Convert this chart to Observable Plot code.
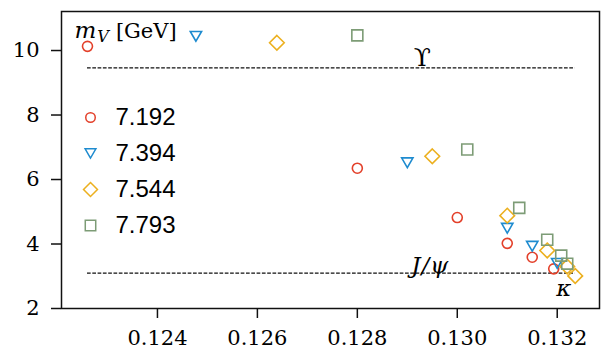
<!DOCTYPE html>
<html><head><meta charset="utf-8">
<script src="https://cdn.jsdelivr.net/npm/d3@7"></script>
<script src="https://cdn.jsdelivr.net/npm/@observablehq/plot@0.6"></script>
<style>
body{margin:0;background:#fff;}
</style></head><body><div id="chart"></div>
<script>
// ---- data ----
const series = ["7.192", "7.394", "7.544", "7.793"];
const colors = ["#e3402a", "#1e8bcf", "#ecb01f", "#7d9c76"];
const symbols = ["circle", "triangle2", "diamond2", "square2"];

const kappa7192 = [0.1226, 0.1280, 0.1300, 0.1310, 0.1315, 0.13193];
const mass7192  = [10.13, 6.35, 4.82, 4.02, 3.59, 3.23];
const kappa7394 = [0.12477, 0.1290, 0.1310, 0.1315, 0.1320];
const mass7394  = [10.44, 6.52, 4.49, 3.93, 3.40];
const kappa7544 = [0.12639, 0.1295, 0.1310, 0.1318, 0.1322, 0.13236];
const mass7544  = [10.24, 6.72, 4.88, 3.80, 3.30, 3.01];
const kappa7793 = [0.1280, 0.1302, 0.13124, 0.1318, 0.13208, 0.1322];
const mass7793  = [10.47, 6.93, 5.12, 4.13, 3.64, 3.39];

const xTicks = [0.124, 0.126, 0.128, 0.130, 0.132];
const yTicks = [2, 4, 6, 8, 10];

const refNames = ["\u03D2", "J/\u03C8"];
const refMasses = [9.46, 3.097];
const refLabelKappa = [0.1293, 0.12946];

const kappaLabel = "\u03BA";
const kappaLabelPos = [0.13213, 2.62];

// ---- build tables ----
const kappas = [kappa7192, kappa7394, kappa7544, kappa7793];
const masses = [mass7192, mass7394, mass7544, mass7793];
const rows = [];
series.forEach((s, i) => kappas[i].forEach((k, j) => rows.push({series: s, kappa: k, mass: masses[i][j]})));
const kMin = d3.min(rows, d => d.kappa), kMax = d3.max(rows, d => d.kappa);
const refs = refNames.map((n, i) => ({name: n, mass: refMasses[i], x1: kMin, x2: kMax, lx: refLabelKappa[i]}));

const dataR = [5, 5.4, 6.6, 7];
const triDy = i => symbols[i] === "triangle2" ? -1.6 : 0;
const serif = "DejaVu Serif";
const ink = "#000";

const marks = [
  Plot.ruleY(refs, {y: "mass", x1: "x1", x2: "x2", stroke: "#111", strokeWidth: 1.3, strokeDasharray: "3.7,1.6"}),
  Plot.text(refs.slice(0,1), {x: "lx", y: "mass", text: "name", fontFamily: serif, fontSize: 25, lineAnchor: "bottom", dy: -2, fill: ink}),
  Plot.text(refs.slice(1), {x: "lx", y: "mass", text: "name", fontFamily: serif, fontStyle: "italic", fontSize: 23, lineAnchor: "bottom", dy: 0, fill: ink, className: "jpsi"}),
  Plot.text([kappaLabel], {x: () => kappaLabelPos[0], y: () => kappaLabelPos[1], text: d => d, fontFamily: serif, fontStyle: "italic", fontSize: 23, fill: ink}),
  Plot.text(["m"], {frameAnchor: "top-left", dx: 13, dy: 20, text: d => d, textAnchor: "start", lineAnchor: "middle", fontFamily: serif, fontSize: 21, fill: ink, className: "mvlabel"}),
];
series.forEach((s, i) => {
  marks.push(Plot.dot(rows.filter(d => d.series === s), {
    x: "kappa", y: "mass", symbol: symbols[i], r: dataR[i], stroke: colors[i], strokeWidth: 1.6,
    rotate: symbols[i] === "triangle2" ? 180 : 0, dy: triDy(i)
  }));
  marks.push(Plot.dot([s], {
    frameAnchor: "top-left", dx: 29, dy: 106 + i * 36 + triDy(i), symbol: symbols[i], r: dataR[i] * 0.95,
    stroke: colors[i], strokeWidth: 1.5, rotate: symbols[i] === "triangle2" ? 180 : 0
  }));
  marks.push(Plot.text([s], {
    frameAnchor: "top-left", dx: 54, dy: 106 + i * 36, text: d => d, textAnchor: "start", lineAnchor: "middle",
    fontFamily: "Liberation Sans", fontSize: 24, fill: ink
  }));
});
// ticks from the library axes, labels drawn as text through the same scales
marks.push(Plot.axisX(xTicks, {tickSize: 10, strokeWidth: 1.5, stroke: "#111", tickFormat: () => "", label: null}));
marks.push(Plot.axisY(yTicks, {tickSize: 10, strokeWidth: 1.5, stroke: "#111", tickFormat: () => "", label: null}));
marks.push(Plot.text(xTicks, {x: d => d, frameAnchor: "bottom", dy: 22, lineAnchor: "top", text: d3.format(".3f"), fontFamily: serif, fontSize: 21, fill: ink}));
marks.push(Plot.text(yTicks, {y: d => d, frameAnchor: "left", dx: -22, textAnchor: "end", lineAnchor: "middle", text: d => String(d), fontFamily: serif, fontSize: 21, fill: ink}));
marks.push(Plot.frame({stroke: "#111", strokeWidth: 1.5}));

const chart = Plot.plot({
  width: 613, height: 352,
  marginLeft: 61, marginTop: 11, marginRight: 14, marginBottom: 44,
  x: {domain: [0.12208, 0.132846]},
  y: {domain: [2, 11.21]},
  style: {background: "#fff", color: "#111"},
  marks
});
document.getElementById("chart").appendChild(chart);

// compose m_V [GeV] label with tspans
const t = d3.select(chart).select(".mvlabel text");
t.text(null);
t.append("tspan").attr("font-style", "italic").attr("font-size", 23).text("m");
t.append("tspan").attr("font-style", "italic").attr("font-size", 16).attr("dy", 4).attr("dx", 1).text("V");
t.append("tspan").attr("font-size", 21).attr("dy", -4).attr("dx", 7).text("[GeV]");
d3.select(chart).select(".jpsi text").attr("letter-spacing", 1);
</script>
</body></html>
